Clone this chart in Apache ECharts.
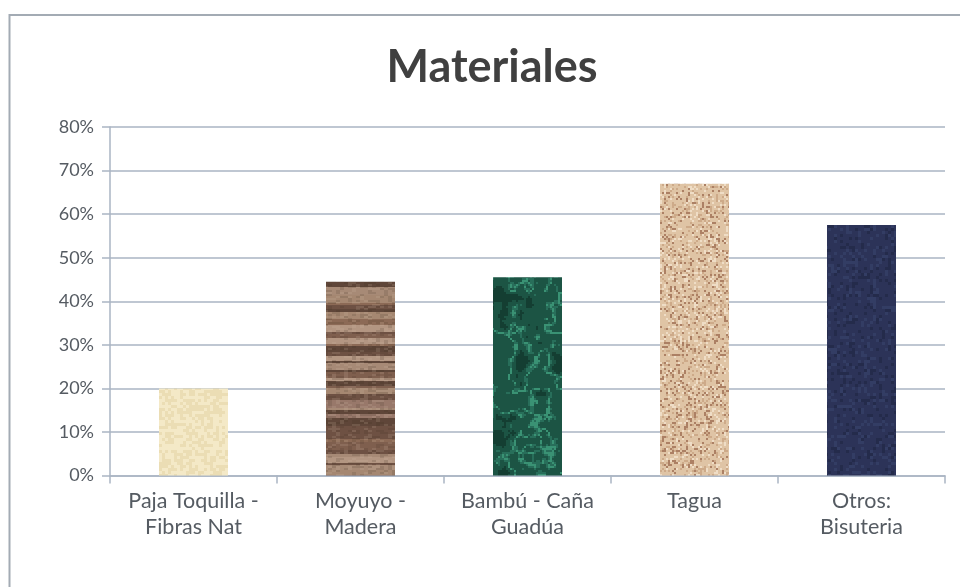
<!DOCTYPE html>
<html>
<head>
<meta charset="utf-8">
<script src="https://cdn.jsdelivr.net/npm/echarts@6/dist/echarts.min.js"></script>
<style>
  html, body { margin: 0; padding: 0; background: #ffffff; }
  #chart { width: 960px; height: 587px; }
</style>
</head>
<body>
<div id="chart"></div>
<script>
// Chart content
const titleText = 'Materiales';
const categories = [
  'Paja Toquilla -\nFibras Nat',
  'Moyuyo -\nMadera',
  'Bambú - Caña\nGuadúa',
  'Tagua',
  'Otros:\nBisuteria'
];
const values = [0.20, 0.445, 0.455, 0.67, 0.575];
const yTicks = [0, 0.1, 0.2, 0.3, 0.4, 0.5, 0.6, 0.7, 0.8];

// Deterministic pseudo-noise used only for the bar textures
function hash(i, j, s) {
  const v = Math.sin(i * 127.1 + j * 311.7 + s * 74.7) * 43758.5453;
  return v - Math.floor(v);
}

// Smooth value noise (bilinear between hashed lattice points)
function valueNoise(x, y, cell, s) {
  const gx = x / cell, gy = y / cell;
  const x0 = Math.floor(gx), y0 = Math.floor(gy);
  const fx = gx - x0, fy = gy - y0;
  const sx = fx * fx * (3 - 2 * fx), sy = fy * fy * (3 - 2 * fy);
  const a = hash(x0, y0, s), b = hash(x0 + 1, y0, s);
  const c = hash(x0, y0 + 1, s), d = hash(x0 + 1, y0 + 1, s);
  return (a + (b - a) * sx) * (1 - sy) + (c + (d - c) * sx) * sy;
}

function makeCanvas(w, h, paint) {
  const c = document.createElement('canvas');
  c.width = w; c.height = h;
  paint(c.getContext('2d'), w, h);
  return c;
}

// Textures are sized to the whole page so no tile seams show inside a bar
const TEX_W = 960, TEX_H = 587;

// Pale straw texture
const strawTex = makeCanvas(TEX_W, TEX_H, (ctx, w, h) => {
  ctx.fillStyle = '#efe2bb';
  ctx.fillRect(0, 0, w, h);
  for (let y = 0; y < h; y += 3) {
    for (let x = 0; x < w; x += 3) {
      const n = hash(x, y, 1);
      ctx.fillStyle = n > 0.5 ? 'rgba(255,250,228,0.3)' : 'rgba(210,190,140,0.14)';
      ctx.fillRect(x, y, 3, 3);
    }
  }
});

// Striped wood texture
const woodTex = makeCanvas(TEX_W, TEX_H, (ctx, w, h) => {
  const palette = ['#8c6a56', '#a58771', '#6e5143', '#b39682', '#7f5f4e', '#5f4639', '#98786a', '#a78a76'];
  let y = 0, k = 0;
  ctx.fillStyle = '#8f705d';
  ctx.fillRect(0, 0, w, h);
  while (y < h) {
    const t = 2 + Math.floor(hash(k, 3, 2) * 7);
    ctx.fillStyle = palette[Math.floor(hash(k, 7, 2) * palette.length)];
    ctx.fillRect(0, y, w, t);
    y += t; k++;
  }
  for (let yy = 0; yy < h; yy += 2) {
    for (let x = 0; x < w; x += 4) {
      const n = hash(x, yy, 9);
      if (n > 0.75) {
        ctx.fillStyle = 'rgba(60,40,30,0.14)';
        ctx.fillRect(x, yy, 4, 2);
      } else if (n < 0.2) {
        ctx.fillStyle = 'rgba(220,200,180,0.14)';
        ctx.fillRect(x, yy, 4, 2);
      }
    }
  }
});

// Dark green marble texture with faint teal veins
const marbleTex = makeCanvas(TEX_W, TEX_H, (ctx, w, h) => {
  for (let y = 0; y < h; y += 2) {
    for (let x = 0; x < w; x += 2) {
      const n = valueNoise(x, y, 20, 3) * 0.6 + valueNoise(x, y, 8, 6) * 0.3 + valueNoise(x, y, 3, 8) * 0.1;
      const vein = Math.abs(n - 0.5);
      let r = 28, g = 84, b = 68;
      if (vein < 0.02) { r = 58; g = 146; b = 116; }
      else if (vein < 0.045) { r = 40; g = 110; b = 90; }
      else if (n < 0.32) { r = 20; g = 62; b = 50; }
      ctx.fillStyle = 'rgb(' + r + ',' + g + ',' + b + ')';
      ctx.fillRect(x, y, 2, 2);
    }
  }
});

// Speckled tagua texture
const taguaTex = makeCanvas(TEX_W, TEX_H, (ctx, w, h) => {
  ctx.fillStyle = '#dfc4a5';
  ctx.fillRect(0, 0, w, h);
  for (let y = 0; y < h; y += 2) {
    for (let x = 0; x < w; x += 2) {
      const n = hash(x, y, 5);
      if (n > 0.88) {
        ctx.fillStyle = 'rgba(150,100,72,0.7)';
        ctx.fillRect(x, y, 2, 2);
      } else if (n > 0.75) {
        ctx.fillStyle = 'rgba(190,150,115,0.55)';
        ctx.fillRect(x, y, 2, 2);
      } else if (n < 0.12) {
        ctx.fillStyle = 'rgba(245,232,212,0.7)';
        ctx.fillRect(x, y, 2, 2);
      }
    }
  }
});

// Dark navy texture
const navyTex = makeCanvas(TEX_W, TEX_H, (ctx, w, h) => {
  ctx.fillStyle = '#2c3358';
  ctx.fillRect(0, 0, w, h);
  for (let y = 0; y < h; y += 3) {
    for (let x = 0; x < w; x += 3) {
      const n = hash(x, y, 11);
      if (n > 0.82) {
        ctx.fillStyle = 'rgba(70,85,130,0.3)';
        ctx.fillRect(x, y, 3, 3);
      } else if (n < 0.15) {
        ctx.fillStyle = 'rgba(20,25,45,0.3)';
        ctx.fillRect(x, y, 3, 3);
      }
    }
  }
});

const textures = [strawTex, woodTex, marbleTex, taguaTex, navyTex];

const chart = echarts.init(document.getElementById('chart'), null, { renderer: 'canvas' });

const gridColor = '#aab5c3';
const labelColor = '#555b62';
const fontFamily = 'Lato, "Open Sans", "Liberation Sans", sans-serif';

chart.setOption({
  backgroundColor: '#ffffff',
  animation: false,
  title: {
    text: titleText,
    left: 487,
    top: 40,
    textAlign: 'center',
    textStyle: {
      fontFamily: fontFamily,
      fontSize: 45,
      fontWeight: 'bold',
      color: '#404040'
    }
  },
  graphic: [{
    type: 'rect',
    shape: { x: 9.5, y: 15, width: 970, height: 600 },
    style: { fill: 'none', stroke: '#a3abb4', lineWidth: 2 },
    silent: true,
    z: -1
  }],
  grid: {
    left: 110,
    right: 15,
    top: 127,
    bottom: 111.5,
    containLabel: false
  },
  xAxis: {
    type: 'category',
    data: categories,
    axisLine: { show: true, lineStyle: { color: gridColor, width: 1.5 } },
    axisTick: { show: true, alignWithLabel: false, length: 8, lineStyle: { color: gridColor, width: 1.5 } },
    axisLabel: {
      color: labelColor,
      fontFamily: fontFamily,
      fontSize: 21.5,
      lineHeight: 26,
      margin: 13,
      interval: 0
    }
  },
  yAxis: {
    type: 'value',
    min: 0,
    max: 0.8,
    interval: 0.1,
    axisLine: { show: true, lineStyle: { color: gridColor, width: 1.5 } },
    axisTick: { show: true, length: 8, lineStyle: { color: gridColor, width: 1.5 } },
    splitLine: { show: true, lineStyle: { color: gridColor, width: 1.5 } },
    axisLabel: {
      color: labelColor,
      fontFamily: fontFamily,
      fontSize: 18,
      margin: 16,
      formatter: v => {
        const t = yTicks.find(x => Math.abs(x - v) < 1e-9);
        return Math.round((t !== undefined ? t : v) * 100) + '%';
      }
    }
  },
  series: [{
    type: 'bar',
    barWidth: 69,
    data: values.map((v, i) => ({
      value: v,
      itemStyle: { color: { image: textures[i], repeat: 'repeat' } }
    }))
  }]
});
</script>
</body>
</html>
